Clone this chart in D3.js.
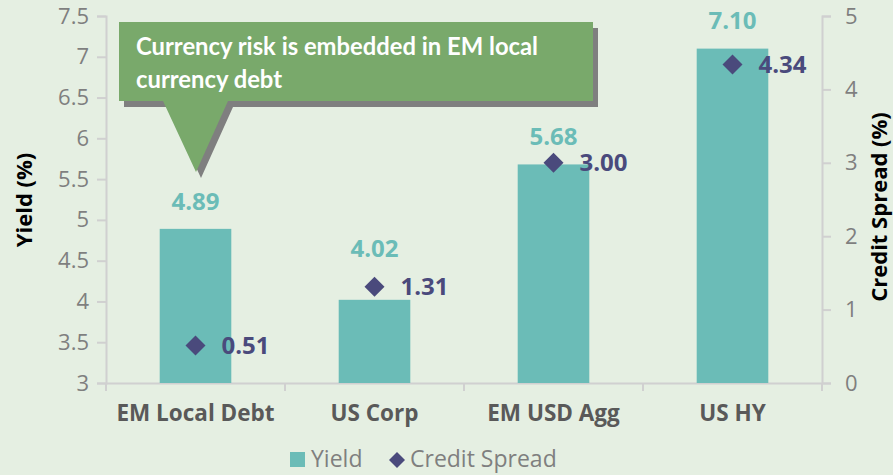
<!DOCTYPE html>
<html>
<head>
<meta charset="utf-8">
<script src="https://cdn.jsdelivr.net/npm/d3@7"></script>
<style>
  html, body { margin: 0; padding: 0; background: #e5efe2; }
  svg { display: block; font-family: "Open Sans", Lato, sans-serif; }
</style>
</head>
<body>
<svg id="chart" width="893" height="475"></svg>
<script>
// Yield vs credit spread by asset class
const categories = ["EM Local Debt", "US Corp", "EM USD Agg", "US HY"];
const yieldValues = [4.89, 4.02, 5.68, 7.10];
const spreadValues = [0.51, 1.31, 3.00, 4.34];
const yieldTicks = [3, 3.5, 4, 4.5, 5, 5.5, 6, 6.5, 7, 7.5];
const spreadTicks = [0, 1, 2, 3, 4, 5];
const calloutLines = ["Currency risk is embedded in EM local", "currency debt"];

const colors = {
  bg: "#e5efe2", bar: "#6bbcb7", diamond: "#4a4a7c", axis: "#d0d0d0",
  tick: "#7f7f7f", cat: "#595959", callout: "#79a96b", shadow: "#7f7f7f"
};
const font = "'Open Sans', Lato, sans-serif";

const svg = d3.select("#chart");
const plot = { left: 106, right: 822, top: 16, bottom: 383 };

const x = d3.scaleBand().domain(categories).range([plot.left, plot.right]).padding(0);
const yL = d3.scaleLinear().domain([3, 7.5]).range([plot.bottom, plot.top]);
const yR = d3.scaleLinear().domain([0, 5]).range([plot.bottom, plot.top]);
const barW = x.bandwidth() * 0.4;
const cx = c => x(c) + x.bandwidth() / 2;

// Left axis
const gL = svg.append("g").attr("transform", `translate(${plot.left},0)`)
  .call(d3.axisLeft(yL).tickValues(yieldTicks).tickFormat(d => String(d)).tickSize(9).tickPadding(8));
gL.selectAll("text").attr("fill", colors.tick).style("font-size", "22px").style("font-family", font);

// Right axis
const gR = svg.append("g").attr("transform", `translate(${plot.right},0)`)
  .call(d3.axisRight(yR).tickValues(spreadTicks).tickFormat(d => String(d)).tickSize(9).tickPadding(14));
gR.selectAll("text").attr("fill", colors.tick).style("font-size", "22px").style("font-family", font);

// Category axis: ticks at band boundaries
const gB = svg.append("g").attr("transform", `translate(0,${plot.bottom})`)
  .call(d3.axisBottom(x).tickSize(0).tickPadding(22));
gB.selectAll("text").attr("fill", colors.cat).style("font-size", "22.5px")
  .style("font-weight", "bold").style("font-family", font);
const bounds = categories.map(c => x(c)).concat([plot.right]);
gB.selectAll("line.bound").data(bounds).enter().append("line")
  .attr("class", "bound").attr("x1", d => d).attr("x2", d => d)
  .attr("y1", 0).attr("y2", 8).attr("stroke", colors.axis).attr("stroke-width", 2);

[gL, gR, gB].forEach(g => {
  g.select(".domain").attr("stroke", colors.axis).attr("stroke-width", 2);
  g.selectAll(".tick line").attr("stroke", colors.axis).attr("stroke-width", 2);
});

// Bars
svg.append("g").selectAll("rect").data(categories).enter().append("rect")
  .attr("x", c => cx(c) - barW / 2)
  .attr("width", barW)
  .attr("y", (c, i) => yL(yieldValues[i]))
  .attr("height", (c, i) => yL(3) - yL(yieldValues[i]))
  .attr("fill", colors.bar);

// Diamonds
const dHalf = 10;
svg.append("g").selectAll("path").data(categories).enter().append("path")
  .attr("d", (c, i) => {
    const px = cx(c), py = yR(spreadValues[i]);
    return `M${px},${py - dHalf}L${px + dHalf},${py}L${px},${py + dHalf}L${px - dHalf},${py}Z`;
  })
  .attr("fill", colors.diamond);

// Yield labels: above bar, nudged above the diamond when they would collide
svg.append("g").selectAll("text").data(categories).enter().append("text")
  .attr("x", cx)
  .attr("y", (c, i) => {
    const top = yL(yieldValues[i]);
    const dy = yR(spreadValues[i]);
    let ly = top - 28;
    if (ly + 9 > dy - dHalf && ly - 9 < dy + dHalf) ly = dy - 38;
    return ly;
  })
  .attr("dy", "0.36em")
  .attr("text-anchor", "middle")
  .attr("fill", colors.bar)
  .style("font-size", "24px").style("font-weight", "bold")
  .text((c, i) => yieldValues[i].toFixed(2));

// Spread labels: right of diamond
svg.append("g").selectAll("text").data(categories).enter().append("text")
  .attr("x", c => cx(c) + 26)
  .attr("y", (c, i) => yR(spreadValues[i]))
  .attr("dy", "0.36em")
  .attr("fill", colors.diamond)
  .style("font-size", "24px").style("font-weight", "bold")
  .text((c, i) => spreadValues[i].toFixed(2));

// Axis titles
svg.append("text").attr("transform", "translate(24,200) rotate(-90)")
  .attr("text-anchor", "middle").attr("dy", "0.36em")
  .style("font-size", "22px").style("font-weight", "bold").attr("fill", "#000")
  .text("Yield (%)");
svg.append("text").attr("transform", "translate(879,207) rotate(-90)")
  .attr("text-anchor", "middle").attr("dy", "0.36em")
  .style("font-size", "22px").style("font-weight", "bold").attr("fill", "#000")
  .text("Credit Spread (%)");

// Callout box with drop shadow, pointing at the EM Local Debt bar
const box = { x0: 119, y0: 22, x1: 593, y1: 101 };
const ptr = { b0: 163, b1: 228, tip: [196, 172] };
const calloutPath = `M${box.x0},${box.y0}H${box.x1}V${box.y1}H${ptr.b1}L${ptr.tip[0]},${ptr.tip[1]}L${ptr.b0},${box.y1}H${box.x0}Z`;
const callout = svg.append("g");
callout.append("path").attr("d", calloutPath).attr("fill", colors.shadow)
  .attr("transform", "translate(5,6)");
callout.append("path").attr("d", calloutPath).attr("fill", colors.callout);
callout.selectAll("text").data(calloutLines).enter().append("text")
  .attr("x", 136).attr("y", (d, i) => 55 + i * 33)
  .attr("fill", "#fff").style("font-size", "23.8px").style("font-weight", "bold")
  .style("font-family", "Lato, 'Open Sans', sans-serif")
  .text(d => d);

// Legend
const lg = svg.append("g");
lg.append("rect").attr("x", 290).attr("y", 452).attr("width", 15).attr("height", 15).attr("fill", colors.bar);
lg.append("text").attr("x", 311).attr("y", 467).attr("fill", colors.tick).style("font-size", "23px").text("Yield");
lg.append("path").attr("d", "M397,452L405,460L397,468L389,460Z").attr("fill", colors.diamond);
lg.append("text").attr("x", 410).attr("y", 467).attr("fill", colors.tick).style("font-size", "23px").text("Credit Spread");
</script>
</body>
</html>
